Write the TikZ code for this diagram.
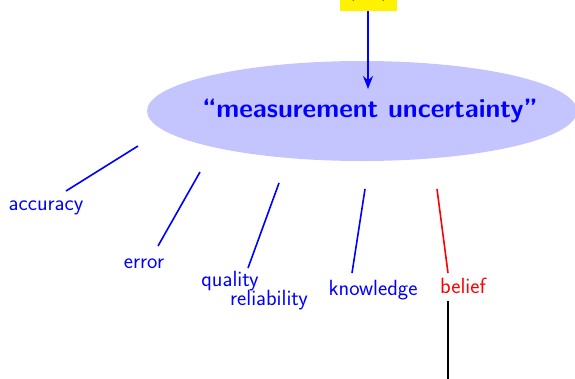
\documentclass[tikz,border=0pt]{standalone}
\usetikzlibrary{arrows.meta,shapes.geometric}
\begin{document}
\begin{tikzpicture}[x=1pt,y=-1pt,
  every node/.style={font=\sffamily\fontsize{22}{24}\selectfont, inner sep=0pt},
  term/.style={text=blue},
  hot/.style={text=red},
  link/.style={draw=blue, line width=1.6pt},
  hotlink/.style={draw=red, line width=1.6pt},
  stem/.style={draw=black, line width=1.6pt},
  topic/.style={ellipse, fill=blue!23, minimum width=430pt, minimum height=100pt},
  topictext/.style={text=blue, font=\sffamily\bfseries\fontsize{26.5}{28}\selectfont},
  source/.style={fill=yellow, minimum width=57pt, minimum height=30pt}]
\useasboundingbox (0,0) rectangle (575,378);

% source box at the top, mostly above the frame
\node[source] (src) at (368.5,-4) {};
\node[anchor=base] (par) at (368.5,-4.5) {(\hspace{26pt})};

% central topic
\node[topic] (mu) at (362,111) {};
\node[topictext] (mut) at (370,111) {``measurement uncertainty''};
\coordinate (tip) at (368,89);
\draw[draw=blue, line width=1.6pt, -{Stealth[length=13pt,width=10pt]}] (src.south -| tip) -- (tip);

% related terms
\node[term] (acc) at (46,208) {accuracy};
\node[term] (err) at (144,264) {error};
\node[term] (qua) at (230,281) {quality};
\node[term] (rel) at (269,300) {reliability};
\node[term] (kno) at (373,290) {knowledge};
\node[hot]  (bel) at (463,286) {belief};

\coordinate (a1) at (138,146); \coordinate (a2) at (66,191);
\coordinate (e1) at (200,172); \coordinate (e2) at (158,246);
\coordinate (q1) at (279,183); \coordinate (q2) at (248,268);
\coordinate (k1) at (365,189); \coordinate (k2) at (352,273);
\coordinate (b1) at (437,189); \coordinate (b2) at (448,273);
\coordinate (s1) at (448,301); \coordinate (s2) at (448,385);

\draw[link] (a1) -- (a2);
\draw[link] (e1) -- (e2);
\draw[link] (q1) -- (q2);
\draw[link] (k1) -- (k2);
\draw[hotlink] (b1) -- (b2);
\draw[stem] (s1) -- (s2);
\end{tikzpicture}
\end{document}
